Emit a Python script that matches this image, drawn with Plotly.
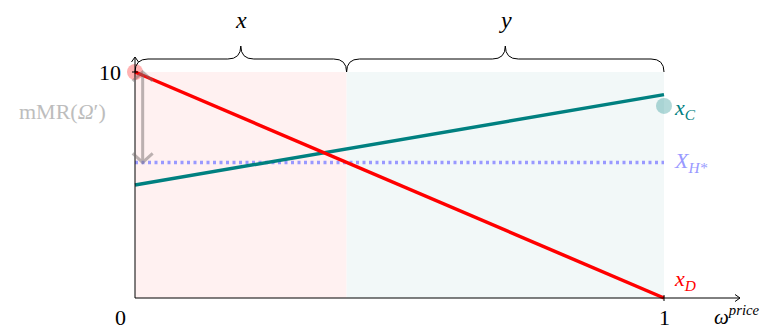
import plotly.graph_objects as go

# data
price = [0, 1]
x_D = [10, 0]
x_C = [5, 9]
X_H = [6, 6]
split = [0, 0.4, 1]
brace_labels = ["x", "y"]
dot_D = (0, 10)
dot_C = (1, 8.5)
mmMR = [10, 6]
mmMR_x = 0.0145

# page puts the figure 8px in from the corner, so size and origin are shifted by that
W, H = 763, 321
OX, OY = 127, 290      # pixel position of (0, 0)
PX_X = 529             # pixels per unit of price
PX_Y = 22.6            # pixels per unit of quantity
def dx(p):
    return p / PX_X
def dy(p):
    return p / PX_Y

FONT = "Liberation Serif"
RED = "#ff0000"
TEAL = "#008080"
BLUE = "#9999ff"
GRAY = "rgba(120,112,112,0.5)"

fig = go.Figure()

# shaded regions
fig.add_shape(type="rect", x0=split[0], x1=split[1], y0=0, y1=10,
              fillcolor="#fff1f1", line_width=0, layer="below")
fig.add_shape(type="rect", x0=split[1], x1=split[2], y0=0, y1=10,
              fillcolor="#f2f8f8", line_width=0, layer="below")

# axes with open arrow tips
x_end = 1 + dx(76)
y_end = 10 + dy(15)
ax_line = dict(color="black", width=1)
fig.add_shape(type="line", x0=0, x1=x_end, y0=0, y1=0, line=ax_line)
fig.add_shape(type="line", x0=0, x1=0, y0=0, y1=y_end, line=ax_line)
fig.add_shape(type="path", line=ax_line,
              path=f"M {x_end-dx(5)},{dy(3.5)} L {x_end},0 L {x_end-dx(5)},{-dy(3.5)}")
fig.add_shape(type="path", line=ax_line,
              path=f"M {-dx(3.5)},{y_end-dy(5)} L 0,{y_end} L {dx(3.5)},{y_end-dy(5)}")
fig.add_shape(type="line", x0=1, x1=1, y0=-dy(3), y1=dy(3), line=ax_line)
fig.add_shape(type="line", x0=-dx(3), x1=dx(3), y0=10, y1=10, line=ax_line)

# braces on top
def brace(a, b, base):
    m = (a + b) / 2
    r = dx(13)
    h1 = dy(13)
    h2 = dy(26)
    return (f"M {a},{base} Q {a},{base+h1} {a+r},{base+h1} L {m-r},{base+h1} "
            f"Q {m},{base+h1} {m},{base+h2} Q {m},{base+h1} {m+r},{base+h1} "
            f"L {b-r},{base+h1} Q {b},{base+h1} {b},{base}")

for i, lab in enumerate(brace_labels):
    a, b = split[i], split[i + 1]
    fig.add_shape(type="path", path=brace(a, b, 10), line=dict(color="black", width=1))
    fig.add_annotation(x=(a + b) / 2, y=10 + dy(52), text=f"<i>{lab}</i>",
                       showarrow=False, font=dict(family=FONT, size=24, color="black"))

# mmMR arrow (gray, both ends)
ch_w, ch_h = dx(10), dy(9)
fig.add_shape(type="path", line=dict(color=GRAY, width=3),
              path=(f"M {mmMR_x},{mmMR[0]} L {mmMR_x},{mmMR[1]} "
                    f"M {mmMR_x-ch_w},{mmMR[1]+ch_h} L {mmMR_x},{mmMR[1]} L {mmMR_x+ch_w},{mmMR[1]+ch_h} "
                    f"M {mmMR_x-ch_w},{mmMR[0]-ch_h} L {mmMR_x},{mmMR[0]} L {mmMR_x+ch_w},{mmMR[0]-ch_h}"))

# lines
fig.add_trace(go.Scatter(x=price, y=X_H, mode="lines",
                         line=dict(color=BLUE, width=3.5, dash="3px,3.5px")))
fig.add_trace(go.Scatter(x=price, y=x_C, mode="lines",
                         line=dict(color=TEAL, width=3.5)))
fig.add_trace(go.Scatter(x=price, y=x_D, mode="lines",
                         line=dict(color=RED, width=3.5)))

# dots
fig.add_trace(go.Scatter(x=[dot_D[0]], y=[dot_D[1]], mode="markers",
                         marker=dict(color="rgba(255,0,0,0.3)", size=16, line_width=0)))
fig.add_trace(go.Scatter(x=[dot_C[0]], y=[dot_C[1]], mode="markers",
                         marker=dict(color="rgba(0,128,128,0.3)", size=16, line_width=0)))

# labels
def label(x, y, text, color="black", size=22, xanchor="center"):
    fig.add_annotation(x=x, y=y, text=text, showarrow=False, xanchor=xanchor,
                       font=dict(family=FONT, size=size, color=color))

label(-dx(12), 10, "10", xanchor="right")
label(-dx(15), -dy(19), "0")
label(1, -dy(19), "1")
label(1 + dx(72), -dy(17), "<i>ω</i><sup><i>price</i></sup>", size=21)
label(1 + dx(8), dot_C[1] - dy(3), "<i>x</i><sub><i>C</i></sub>", color=TEAL, xanchor="left")
label(1 + dx(8), X_H[1], "<i>X</i><sub><i>H*</i></sub>", color=BLUE, xanchor="left")
label(1 + dx(8), x_D[1] + dy(18), "<i>x</i><sub><i>D</i></sub>", color=RED, xanchor="left")
label(-dx(73), 8.25, "mMR(<i>Ω</i>′)", color="#bdbdbd")

fig.update_xaxes(visible=False, range=[-OX / PX_X, (W - OX) / PX_X])
fig.update_yaxes(visible=False, range=[-(H - OY) / PX_Y, OY / PX_Y])
fig.update_layout(width=W, height=H, margin=dict(l=0, r=0, t=0, b=0),
                  showlegend=False, plot_bgcolor="white", paper_bgcolor="white")

fig.write_html("out.html")
